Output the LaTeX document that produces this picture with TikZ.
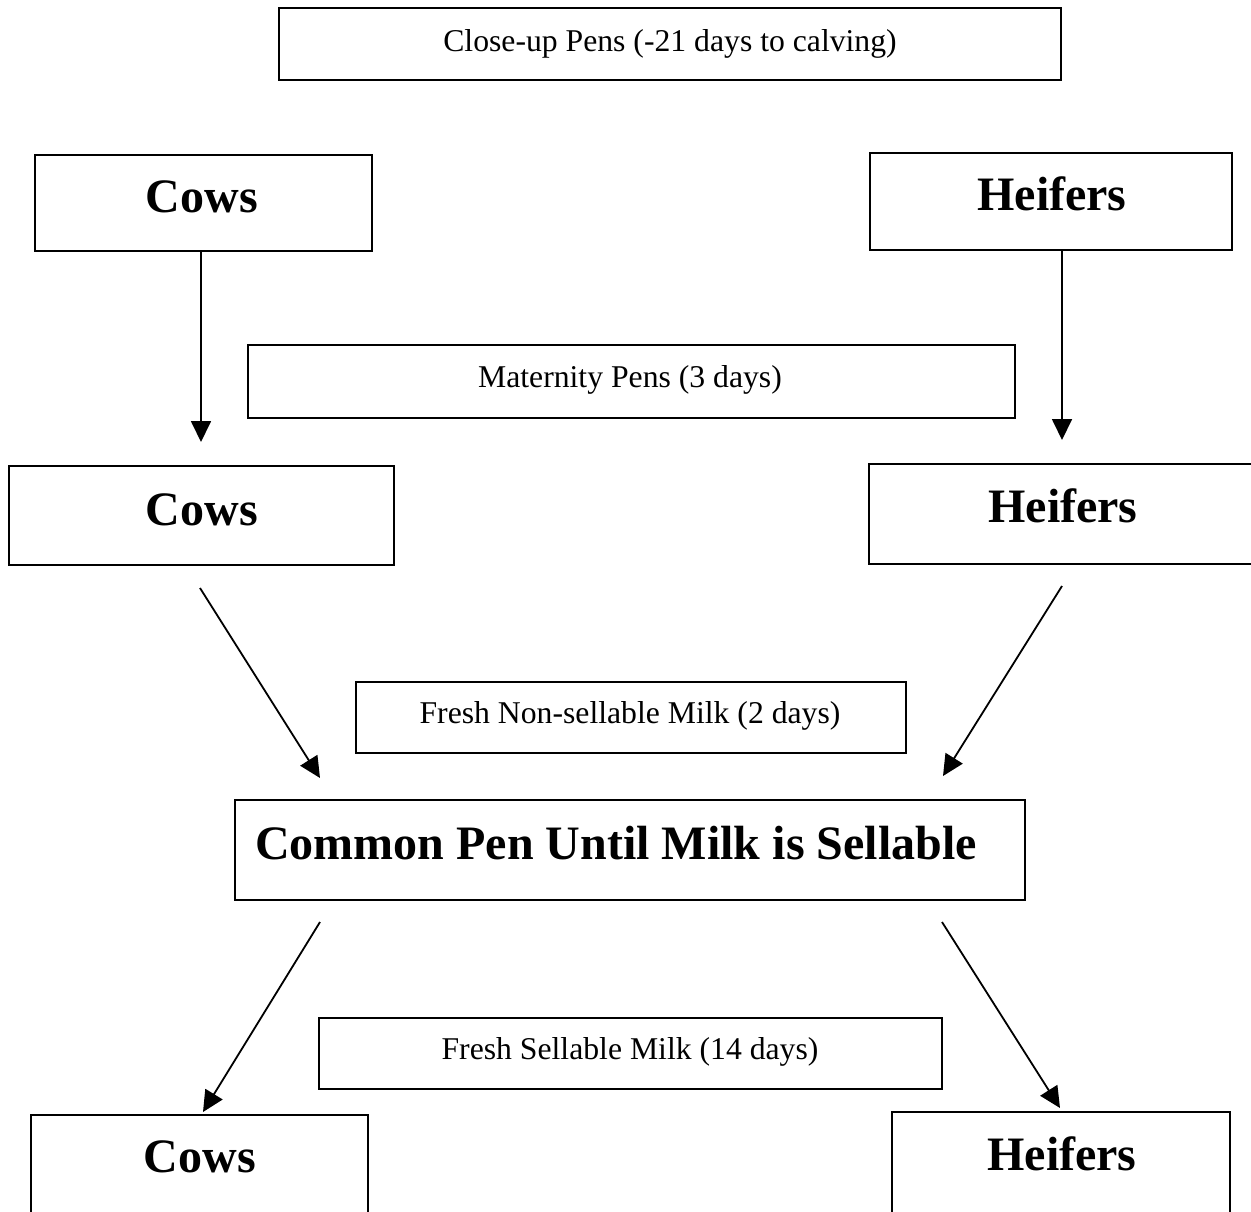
\documentclass[tikz,border=0pt]{standalone}
\usepackage{fontspec}
\setmainfont{Liberation Serif}
\usetikzlibrary{arrows.meta}
\begin{document}
\begin{tikzpicture}[x=1pt,y=-1pt,
  box/.style={draw,line width=1.8pt,inner sep=0pt},
  small/.style={font=\fontsize{31.7}{38}\selectfont},
  big/.style={font=\fontsize{48}{57}\selectfont\bfseries},
  arr/.style={line width=1.8pt,-{Triangle[width=20pt,length=21pt]}}]
\clip (0,0) rectangle (1251,1211);
\fill[white] (0,0) rectangle (1251,1211);
% boxes
\node[box,minimum width=782pt,minimum height=72pt] (close) at (670,44) {};
\node[small] at (670,44) {Close-up Pens (-21 days to calving)};
\node[box,minimum width=337pt,minimum height=96pt] (cows1) at (203.5,203) {};
\node[big] at (202,197) {Cows};
\node[box,minimum width=362pt,minimum height=97pt] (heif1) at (1051,201.5) {};
\node[big] at (1052,194) {Heifers};
\node[box,minimum width=767pt,minimum height=73pt] (mat) at (631.5,381.5) {};
\node[small] at (630,380) {Maternity Pens (3 days)};
\node[box,minimum width=385pt,minimum height=99pt] (cows2) at (201.5,515.5) {};
\node[big] at (202,510) {Cows};
\node[box,minimum width=400pt,minimum height=100pt] (heif2) at (1069,514) {};
\node[big] at (1063,506) {Heifers};
\node[box,minimum width=550pt,minimum height=71pt] (fresh) at (631,717.5) {};
\node[small] at (630,716) {Fresh Non-sellable Milk (2 days)};
\node[box,minimum width=790pt,minimum height=100pt] (common) at (630,850) {};
\node[big] at (616,843) {Common Pen Until Milk is Sellable};
\node[box,minimum width=623pt,minimum height=71pt] (sell) at (630.5,1053.5) {};
\node[small] at (630,1052) {Fresh Sellable Milk (14 days)};
\node[box,minimum width=337pt,minimum height=120pt] (cows3) at (199.5,1175) {};
\node[big] at (200,1157) {Cows};
\node[box,minimum width=338pt,minimum height=120pt] (heif3) at (1061,1172) {};
\node[big] at (1062,1154) {Heifers};
% arrows
\coordinate (a1) at (201,442);
\coordinate (a2) at (1062,440);
\coordinate (b1s) at (200,588);
\coordinate (b1e) at (320,778);
\coordinate (b2s) at (1062,586);
\coordinate (b2e) at (943,776);
\coordinate (c1s) at (320,922);
\coordinate (c1e) at (203,1112);
\coordinate (c2s) at (942,922);
\coordinate (c2e) at (1060,1108);
\draw[arr] (cows1.south -| a1) -- (a1);
\draw[arr] (heif1.south -| a2) -- (a2);
\draw[arr] (b1s) -- (b1e);
\draw[arr] (b2s) -- (b2e);
\draw[arr] (c1s) -- (c1e);
\draw[arr] (c2s) -- (c2e);
\end{tikzpicture}
\end{document}
